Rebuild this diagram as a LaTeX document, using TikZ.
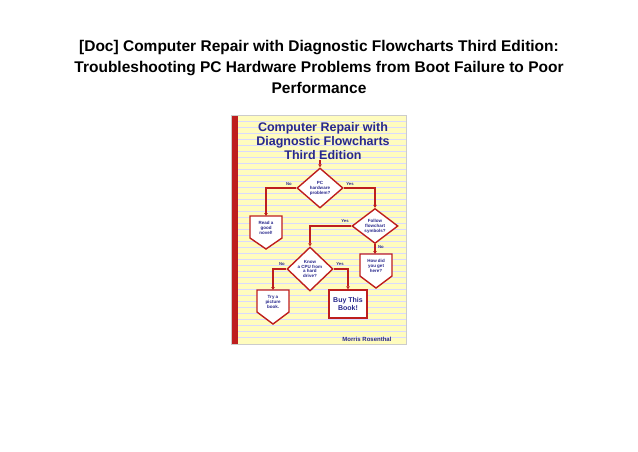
\documentclass[tikz,border=0pt]{standalone}
\usepackage{fontspec}
\setmainfont{Liberation Sans}
\usetikzlibrary{shapes.geometric,arrows.meta}
\definecolor{redc}{RGB}{190,30,30}
\definecolor{bluec}{RGB}{40,40,140}
\definecolor{yel}{RGB}{255,252,190}
\tikzset{
  dia/.style={diamond,draw=redc,line width=1.4pt,fill=white,align=center,font=\fontsize{4.5}{4.9}\selectfont\bfseries\color{bluec},inner sep=0pt,minimum width=46pt,minimum height=40pt},
  lbl/.style={font=\fontsize{4.5}{5}\selectfont\bfseries\color{bluec},align=center,inner sep=0.5pt},
  yn/.style={font=\fontsize{4.2}{4.5}\selectfont\bfseries\color{bluec},inner sep=0.5pt},
  link/.style={draw=redc,line width=1.3pt,-{Triangle[length=3pt,width=3.5pt]}},
  pent/.style={draw=redc,line width=1.4pt,fill=white}
}
\begin{document}
\begin{tikzpicture}[x=1pt,y=-1pt]
\useasboundingbox (0,0) rectangle (638,451);
\fill[white] (0,0) rectangle (638,451);
\node[font=\fontsize{15.5}{21}\selectfont\bfseries,align=center] (title) at (319,67)
 {[Doc] Computer Repair with Diagnostic Flowcharts Third Edition:\\Troubleshooting PC Hardware Problems from Boot Failure to Poor\\Performance};
% cover
\fill[yel] (231,115) rectangle (406,344);
\foreach \yy in {121,127,...,341} \draw[blue!15,line width=0.3pt] (238,\yy) -- (406,\yy);
\fill[redc] (231,115) rectangle (238,344);
\draw[gray!40,line width=0.4pt] (231,115) rectangle (406,344);
\node[font=\fontsize{12.5}{14}\selectfont\bfseries\color{bluec},align=center] (ctitle) at (323,141)
 {Computer Repair with\\Diagnostic Flowcharts\\Third Edition};
\node[dia] (d1) at (320,188) {PC\\hardware\\problem?};
\node[dia,minimum height=34pt] (d2) at (375,226) {Follow\\flowchart\\symbols?};
\node[dia,minimum height=44pt] (d3) at (310,269) {Know\\a CPU from\\a hard\\drive?};
% pentagon boxes
\draw[pent] (250,216) -- (282,216) -- (282,238) -- (266,249) -- (250,238) -- cycle;
\node[lbl] (n1) at (266,228) {Read a\\good\\novel!};
\draw[pent] (360,254) -- (392,254) -- (392,276) -- (376,288) -- (360,276) -- cycle;
\node[lbl] (n2) at (376,266) {How did\\you get\\here?};
\draw[pent] (257,290) -- (289,290) -- (289,312) -- (273,324) -- (257,312) -- cycle;
\node[lbl] (n3) at (273,302) {Try a\\picture\\book.};
\node[draw=redc,line width=1.4pt,fill=white,minimum width=38pt,minimum height=28pt,align=center,font=\fontsize{7}{8}\selectfont\bfseries\color{bluec}] (n4) at (348,304) {Buy This\\Book!};
\coordinate (top) at (320,160);
\draw[link] (top) -- (d1.north);
\draw[link] (d1.west) -| (266,216);
\draw[link] (d1.east) -| (d2.north);
\draw[link] (d2.west) -| (d3.north);
\draw[link] (d2.south) -- (375,254);
\draw[link] (d3.west) -| (273,290);
\draw[link] (d3.east) -| (n4.north);
\node[yn] at (289,184) {No};
\node[yn] at (350,184) {Yes};
\node[yn] at (345,221) {Yes};
\node[yn] at (381,247) {No};
\node[yn] at (282,264) {No};
\node[yn] at (340,264) {Yes};
\node[font=\fontsize{6}{6.5}\selectfont\bfseries\color{bluec}] (auth) at (367,339) {Morris Rosenthal};
\end{tikzpicture}
\end{document}
